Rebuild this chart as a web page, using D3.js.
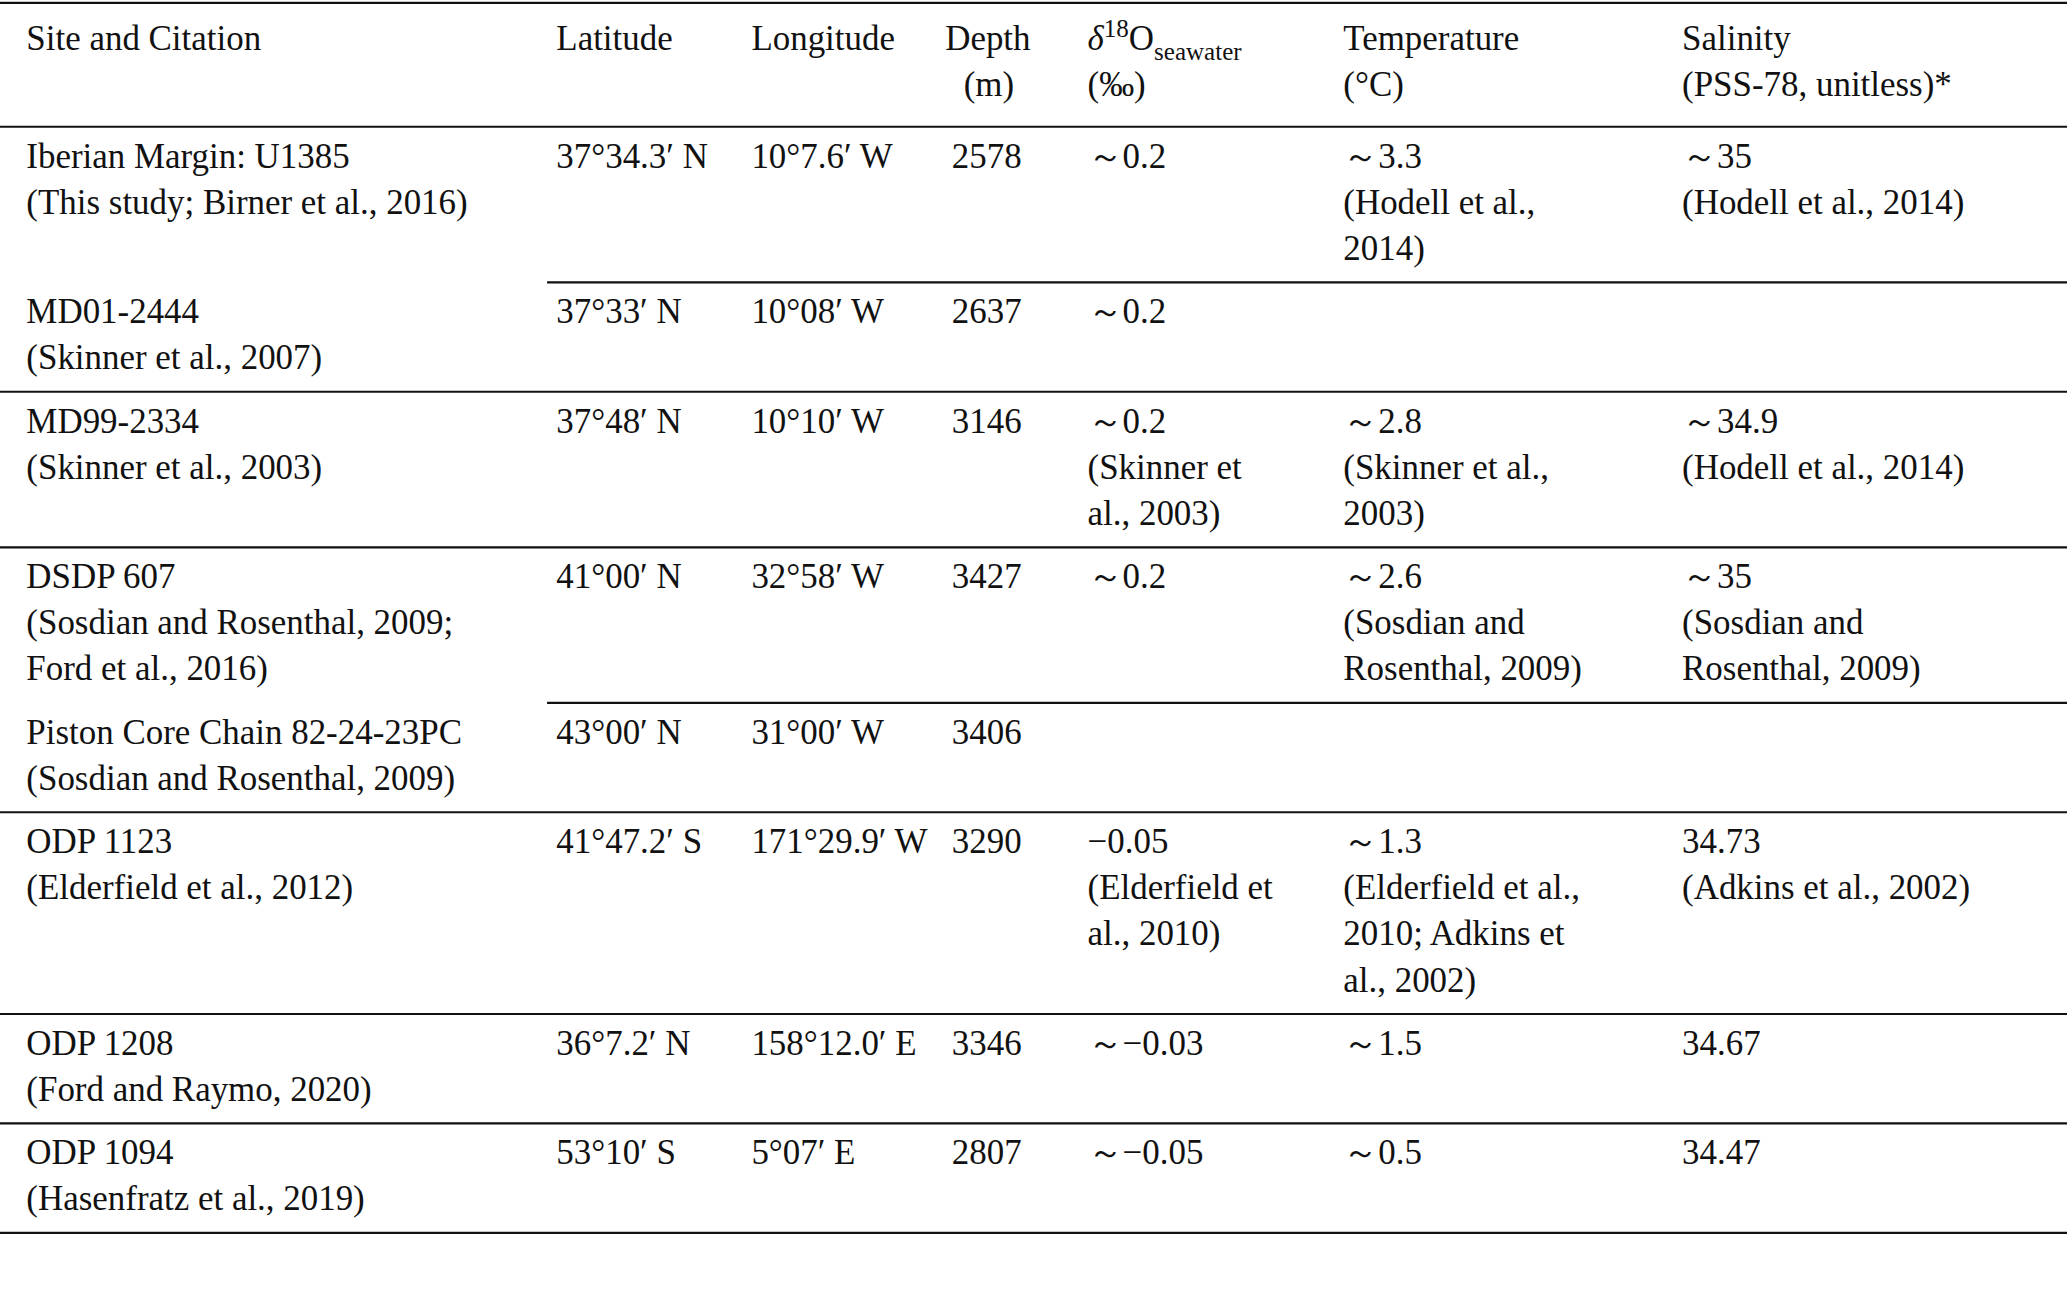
<!DOCTYPE html>
<html><head><meta charset="utf-8">
<script src="https://d3js.org/d3.v7.min.js"></script>
<style>body{margin:0;background:#fff}text{font-family:"Liberation Serif","DejaVu Serif",serif;font-size:26.5px;fill:#111}</style>
</head><body><svg id="tbl"></svg>
<script>
// table contents, one entry per row; "\n" breaks lines within a cell
const sites = ["Iberian Margin: U1385\n(This study; Birner et al., 2016)", "MD01-2444\n(Skinner et al., 2007)", "MD99-2334\n(Skinner et al., 2003)", "DSDP 607\n(Sosdian and Rosenthal, 2009;\nFord et al., 2016)", "Piston Core Chain 82-24-23PC\n(Sosdian and Rosenthal, 2009)", "ODP 1123\n(Elderfield et al., 2012)", "ODP 1208\n(Ford and Raymo, 2020)", "ODP 1094\n(Hasenfratz et al., 2019)"];
const latitudes = ["37°34.3′ N", "37°33′ N", "37°48′ N", "41°00′ N", "43°00′ N", "41°47.2′ S", "36°7.2′ N", "53°10′ S"];
const longitudes = ["10°7.6′ W", "10°08′ W", "10°10′ W", "32°58′ W", "31°00′ W", "171°29.9′ W", "158°12.0′ E", "5°07′ E"];
const depths = ["2578", "2637", "3146", "3427", "3406", "3290", "3346", "2807"];
const d18O = ["～0.2", "～0.2", "～0.2\n(Skinner et\nal., 2003)", "～0.2", "", "−0.05\n(Elderfield et\nal., 2010)", "～−0.03", "～−0.05"];
const temps = ["～3.3\n(Hodell et al.,\n2014)", "", "～2.8\n(Skinner et al.,\n2003)", "～2.6\n(Sosdian and\nRosenthal, 2009)", "", "～1.3\n(Elderfield et al.,\n2010; Adkins et\nal., 2002)", "～1.5", "～0.5"];
const salinity = ["～35\n(Hodell et al., 2014)", "", "～34.9\n(Hodell et al., 2014)", "～35\n(Sosdian and\nRosenthal, 2009)", "", "34.73\n(Adkins et al., 2002)", "34.67", "34.47"];
// rows whose bottom rule only spans the data columns (shared site group)
const partialRule = [true, false, false, true, false, false, false, false];

const W = 1568, H = 985, lh = 35;
const colX = [20, 422, 570, 722, 825, 1019, 1276];
const cols = [sites, latitudes, longitudes, depths, d18O, temps, salinity];

const svg = d3.select("#tbl").attr("width", 2067).attr("height", 1299).attr("viewBox", `0 0 ${W} ${H}`);

// header
const hdr = svg.append("g");
const h = (x, y, t) => hdr.append("text").attr("x", x).attr("y", y).text(t);
h(20, 38, "Site and Citation"); h(422, 38, "Latitude"); h(570, 38, "Longitude");
h(717, 38, "Depth"); h(731, 73, "(m)");
const dt = hdr.append("text").attr("x", 825).attr("y", 38);
dt.append("tspan").style("font-style", "italic").text("δ");
dt.append("tspan").attr("dy", -10).style("font-size", "19px").text("18");
dt.append("tspan").attr("dy", 10).text("O");
dt.append("tspan").attr("dy", 7).style("font-size", "19px").text("seawater");
h(825, 73, "(‰)");
h(1019, 38, "Temperature"); h(1019, 73, "(°C)");
h(1276, 38, "Salinity"); h(1276, 73, "(PSS-78, unitless)*");

const rule = (x1, y) => svg.append("line").attr("x1", x1).attr("x2", W).attr("y1", y).attr("y2", y).attr("stroke", "#111").attr("stroke-width", 1.6);
rule(0, 2); rule(0, 96);

let yTop = 96;
sites.forEach((s, i) => {
  const nLines = d3.max(cols, c => c[i] ? c[i].split("\n").length : 1);
  const g = svg.append("g");
  cols.forEach((c, j) => {
    const lines = c[i] ? c[i].split("\n") : [];
    g.selectAll(null).data(lines).join("text")
      .attr("x", colX[j]).attr("y", (d, k) => yTop + 31 + k * lh).text(d => d);
  });
  const bottom = yTop + nLines * lh + 13;
  rule(partialRule[i] ? 415 : 0, bottom);
  yTop = bottom;
});
</script></body></html>
